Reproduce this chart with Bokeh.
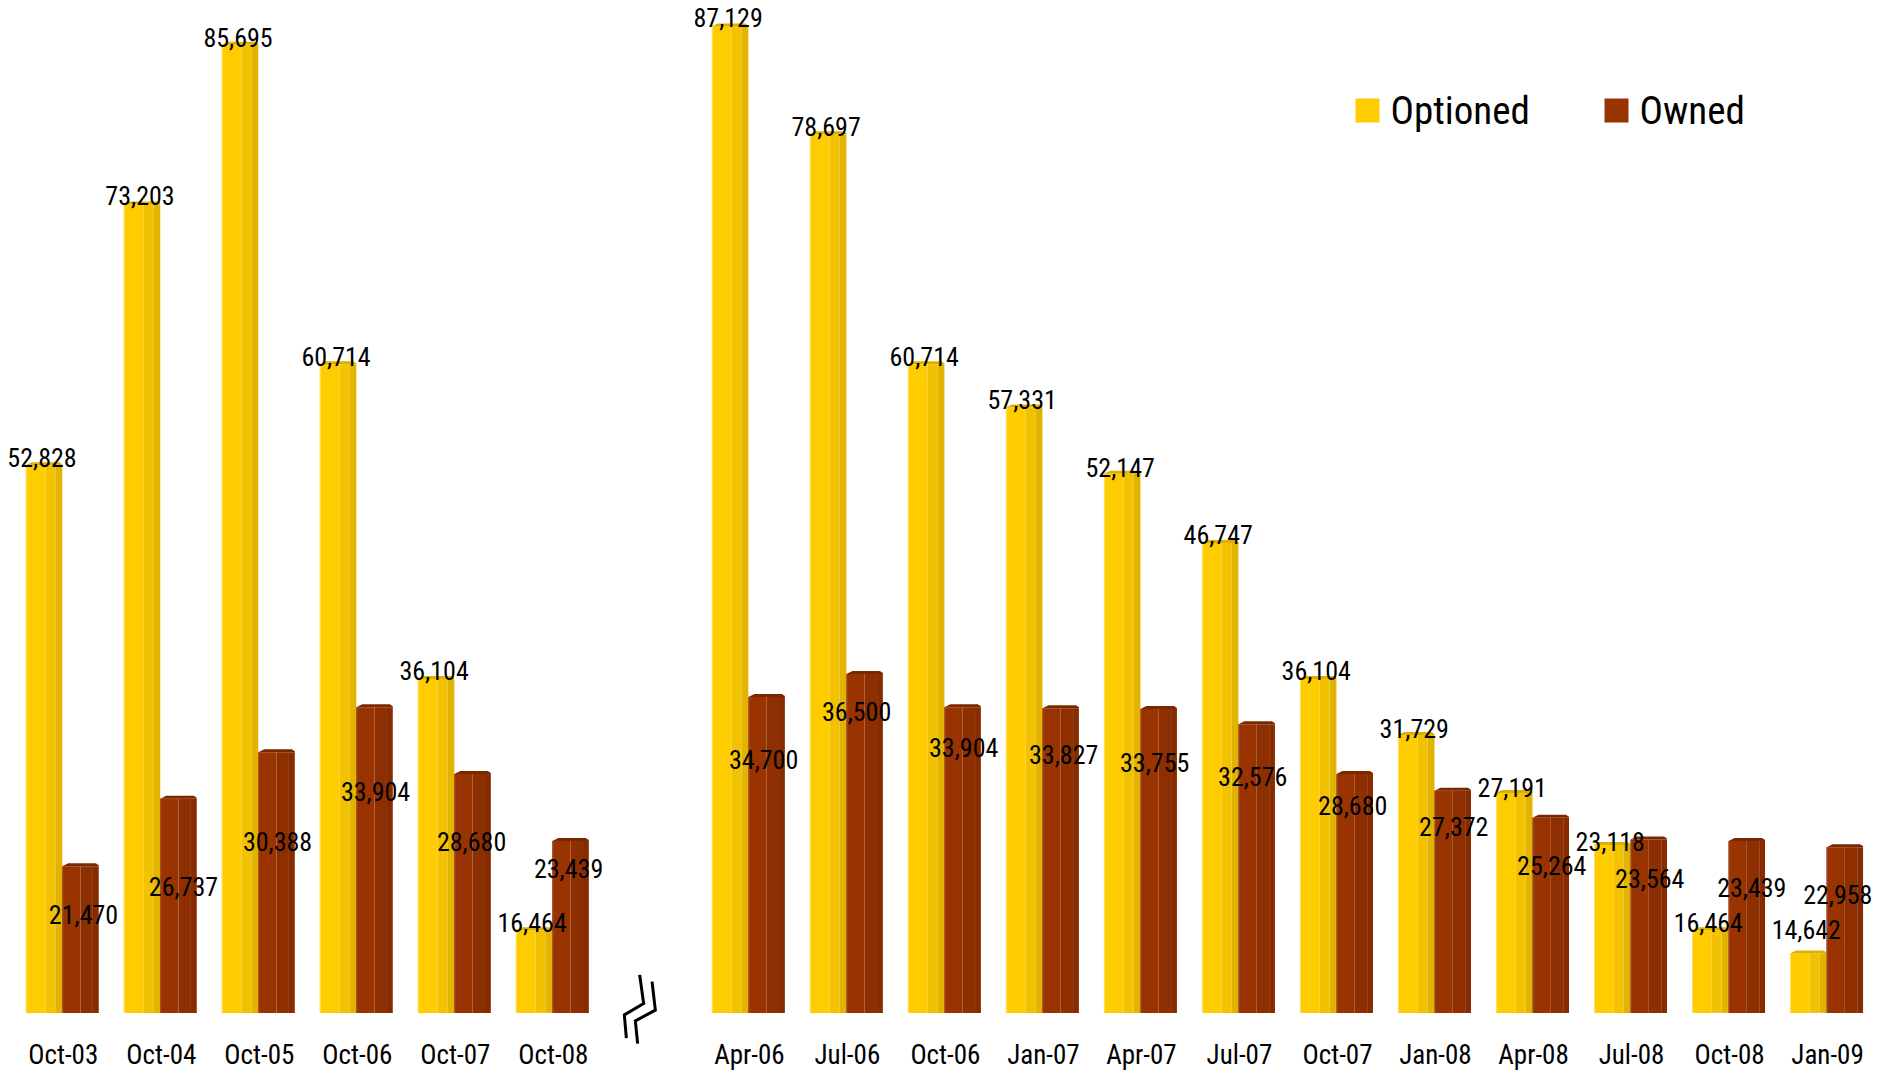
from bokeh.plotting import figure
from bokeh.models import Range1d
from bokeh.embed import file_html
from bokeh.resources import INLINE
from bokeh.core.properties import value

# ---------------- data ----------------
periods_annual = ["Oct-03", "Oct-04", "Oct-05", "Oct-06", "Oct-07", "Oct-08"]
optioned_annual = [52828, 73203, 85695, 60714, 36104, 16464]
owned_annual = [21470, 26737, 30388, 33904, 28680, 23439]

periods_quarterly = ["Apr-06", "Jul-06", "Oct-06", "Jan-07", "Apr-07", "Jul-07",
                     "Oct-07", "Jan-08", "Apr-08", "Jul-08", "Oct-08", "Jan-09"]
optioned_quarterly = [87129, 78697, 60714, 57331, 52147, 46747,
                      36104, 31729, 27191, 23118, 16464, 14642]
owned_quarterly = [34700, 36500, 33904, 33827, 33755, 32576,
                   28680, 27372, 25264, 23564, 23439, 22958]

series_names = ["Optioned", "Owned"]

# ---------------- layout / style ----------------
W, H = 1878, 1073
X0, X1 = -0.63, 18.53          # category slots, one unit each
Y0, Y1 = 5260, 89160           # value axis
AXIS_MIN = 10000               # columns rise from here

UX = (X1 - X0) / W             # x units per pixel
UY = (Y1 - Y0) / H             # y units per pixel
BAR_W = 36.5 * UX

FONT = value("Liberation Sans Narrow, Roboto Condensed, DejaVu Sans Condensed, Roboto, sans-serif")
VAL_SIZE = 26
CAT_SIZE = 27
LEG_SIZE = 39

# column shading: front face, side bevel, far edge
YELLOW = ["#FFCC00", "#F2C200", "#E2B400"]
YELLOW_STRIPES = [(0.0, 0.54), (0.54, 0.81), (0.81, 1.0)]
YELLOW_EDGE = "#FFDD55"
YELLOW_CAP = "#DDB000"
RED = ["#993300", "#8D2F00", "#862C00"]
RED_STRIPES = [(0.0, 0.5), (0.5, 0.84), (0.84, 1.0)]
RED_EDGE = "#A34A22"
RED_CAP = "#7A2800"

# label placement tweaks (pixels)
opt_lift_annual = [8, 9, 7, 8, 9, 8]
opt_lift_quarterly = [9, 8, 8, 8, 6, 8, 9, 6, 6, 4, 8, 24]
own_drop_annual = [48, 88, 89, 84, 68, 27]
own_drop_quarterly = [63, 38, 40, 46, 53, 52, 32, 36, 48, 39, 46, 47]
own_shift_annual = [3, 5, 1, 1, -1, -2]
own_shift_quarterly = [-3, -8, 1, 3, -4, -4, -2, 1, 1, 1, 5, -7]
OPT_SHIFT = -2

# slots: annual group, one empty slot for the axis break, quarterly group
x_annual = list(range(len(periods_annual)))
BREAK_SLOT = len(periods_annual)
x_quarterly = [BREAK_SLOT + 1 + j for j in range(len(periods_quarterly))]

xs = x_annual + x_quarterly
periods = periods_annual + periods_quarterly
optioned = optioned_annual + optioned_quarterly
owned = owned_annual + owned_quarterly
opt_lift = opt_lift_annual + opt_lift_quarterly
own_drop = own_drop_annual + own_drop_quarterly
own_shift = own_shift_annual + own_shift_quarterly

p = figure(width=W, height=H, x_range=Range1d(X0, X1), y_range=Range1d(Y0, Y1),
           output_backend="svg", toolbar_location=None, min_border=0,
           x_axis_location=None, y_axis_location=None)
p.grid.visible = False
p.outline_line_color = None
p.background_fill_color = "white"
p.border_fill_color = "white"


def draw_columns(vals, left_edges, colors, stripes, edge_color, cap_color):
    for (a, b), c in zip(stripes, colors):
        p.quad(left=[l + a * BAR_W for l in left_edges],
               right=[l + b * BAR_W for l in left_edges],
               bottom=AXIS_MIN, top=vals,
               fill_color=c, line_color=None)
    # thin highlight along the lit edge
    p.quad(left=left_edges, right=[l + 1.2 * UX for l in left_edges],
           bottom=AXIS_MIN, top=vals, fill_color=edge_color, line_color=None)
    cap_xs, cap_ys = [], []
    for l, v in zip(left_edges, vals):
        r = l + BAR_W
        cap_xs.append([l, l + 6 * UX, r - 3 * UX, r, r])
        cap_ys.append([v, v + 3 * UY, v + 3 * UY, v + 1 * UY, v])
    p.patches(cap_xs, cap_ys, fill_color=cap_color, line_color=None)


draw_columns(optioned, [x - BAR_W for x in xs], YELLOW, YELLOW_STRIPES, YELLOW_EDGE, YELLOW_CAP)
draw_columns(owned, xs, RED, RED_STRIPES, RED_EDGE, RED_CAP)

# value labels, vertically centred on the given y
p.text(x=[x - BAR_W / 2 + OPT_SHIFT * UX for x in xs],
       y=[v + lift * UY for v, lift in zip(optioned, opt_lift)],
       text=[f"{v:,}" for v in optioned],
       text_font=FONT, text_font_size=f"{VAL_SIZE}px", text_color="black",
       text_align="center", text_baseline="middle")
p.text(x=[x + BAR_W / 2 + s * UX for x, s in zip(xs, own_shift)],
       y=[v - drop * UY for v, drop in zip(owned, own_drop)],
       text=[f"{v:,}" for v in owned],
       text_font=FONT, text_font_size=f"{VAL_SIZE}px", text_color="black",
       text_align="center", text_baseline="middle")

# category labels under the columns
p.text(x=[x + 1 * UX for x in xs], y=[AXIS_MIN - 42 * UY] * len(xs), text=periods,
       text_font=FONT, text_font_size=f"{CAT_SIZE}px", text_color="black",
       text_align="center", text_baseline="middle")

# axis-break marker between the two groups
bx = BREAK_SLOT
for dxs, dys in ([(-10.7, -6.7, -26, -24), (-38, -9.3, 2, 25.3)],
                 [(1.7, 5, -15, -12.7), (-31.3, -2.7, 8, 30.7)]):
    p.line(x=[bx + d * UX for d in dxs], y=[AXIS_MIN - d * UY for d in dys],
           line_color="black", line_width=3, line_join="miter")


# legend: colour swatch + name
def px_x(px):
    return X0 + px * UX


def px_y(py):
    return Y1 - py * UY


swatch_left = [1355, 1604]
p.quad(left=[px_x(s) for s in swatch_left], right=[px_x(s + 24) for s in swatch_left],
       top=[px_y(98)] * 2, bottom=[px_y(122)] * 2,
       fill_color=[YELLOW[0], RED[0]], line_color=None)
p.text(x=[px_x(s + 35) for s in swatch_left], y=[px_y(110)] * 2, text=series_names,
       text_font=FONT, text_font_size=f"{LEG_SIZE}px", text_color="black",
       text_align="left", text_baseline="middle")

open("out.html", "w").write(file_html(p, INLINE))
